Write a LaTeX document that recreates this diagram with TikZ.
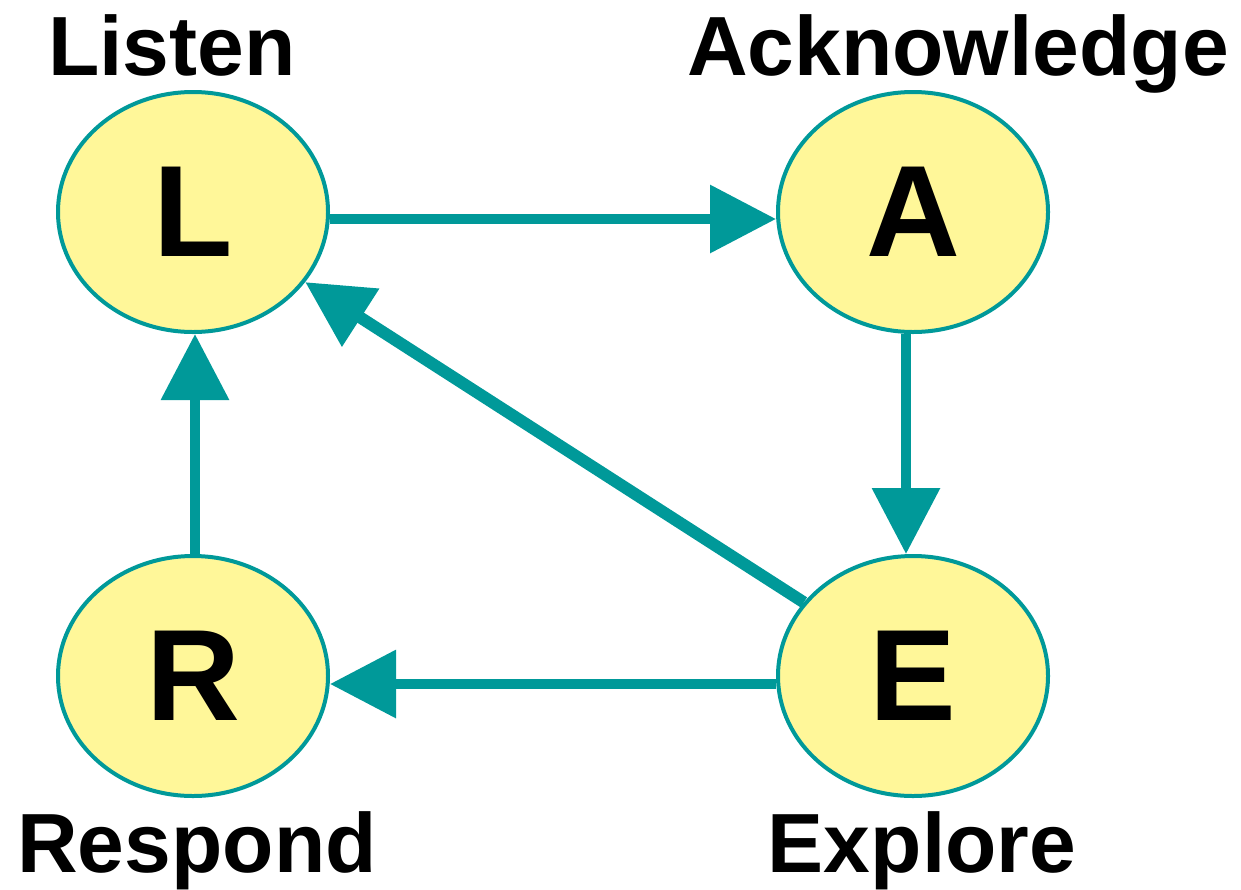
\documentclass[tikz,border=0pt]{standalone}
\usepackage{fontspec}
\setmainfont{Liberation Sans}
\usetikzlibrary{shapes.geometric,arrows.meta,calc}
\definecolor{teal1}{RGB}{0,153,153}
\definecolor{pale}{RGB}{255,247,153}
\begin{document}
\begin{tikzpicture}[x=1pt,y=-1pt,
  state/.style={ellipse,draw=teal1,line width=4pt,fill=pale,inner sep=0pt,
    minimum width=270pt,minimum height=240pt,
    font=\fontsize{130}{130}\selectfont\bfseries},
  lab/.style={anchor=base,inner sep=0pt,font=\fontsize{84}{84}\selectfont\bfseries},
  arr/.style={draw=teal1,line width=10pt,-{Triangle[length=66pt,width=66pt]}}]
\useasboundingbox (0,0) rectangle (1241,889);
\node[state] (L) at (193,212) {L};
\node[state] (A) at (913,212) {A};
\node[state] (R) at (193,676) {R};
\node[state] (E) at (913,676) {E};
\node[lab] (tL) at (172,75) {Listen};
\node[lab] (tA) at (958,75) {Acknowledge};
\node[lab] (tR) at (197,872) {Respond};
\node[lab] (tE) at (922,872) {Explore};
\draw[arr] ([yshift=-7pt]L.east) -- ([yshift=-7pt]A.west);
\draw[arr] ([xshift=-7pt]A.south) -- ([xshift=-7pt]E.north);
\draw[arr] ([yshift=-8pt]E.west) -- ([yshift=-8pt]R.east);
\draw[arr] ([xshift=2pt]R.north) -- ([xshift=2pt]L.south);
\draw[arr,line width=12pt] (E.146) -- (L.-32);
\end{tikzpicture}
\end{document}
